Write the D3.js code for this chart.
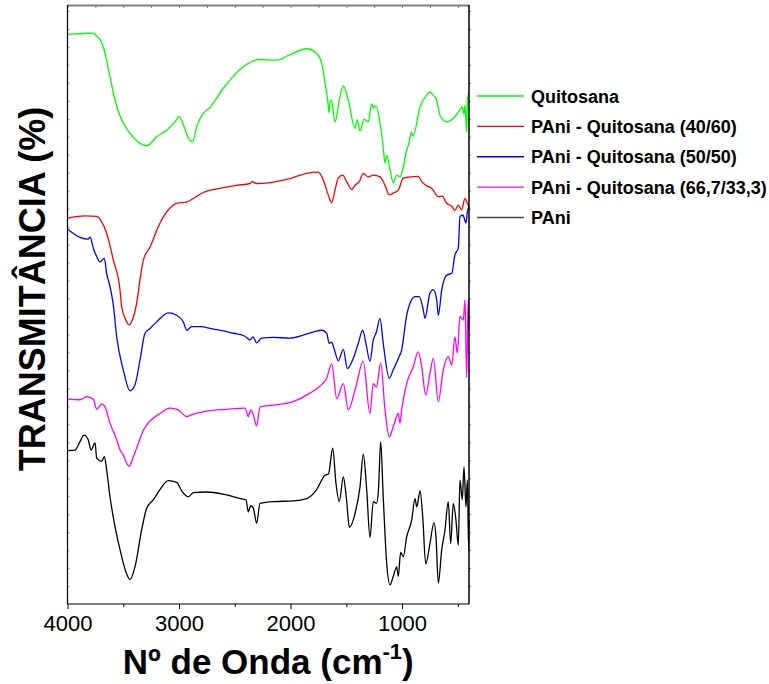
<!DOCTYPE html>
<html><head><meta charset="utf-8">
<script src="https://cdn.jsdelivr.net/npm/d3@7"></script>
<style>body{margin:0;background:#fff}svg{display:block}</style>
</head><body>
<svg id="c" width="769" height="684"></svg>
<script>
// ---- data: [wavenumber (cm-1), transmittance (arbitrary, offset)] ----
const seriesNames = ["Quitosana", "PAni - Quitosana (40/60)", "PAni - Quitosana (50/50)", "PAni - Quitosana (66,7/33,3)", "PAni"];
const xTickLabels = [4000, 3000, 2000, 1000];
const xMinorTicks = [3500, 2500, 1500, 500];

const quitosana = [[4000,95.1],[3888,95.2],[3769,95.3],[3738,94.8],[3709,94.3],[3679,93.0],[3619,88.0],[3574,84.1],[3514,80.8],[3440,78.6],[3350,76.9],[3290,76.5],[3200,78.0],[3111,79.1],[3036,80.5],[2998,81.4],[2955,79.7],[2917,77.8],[2877,77.2],[2842,79.7],[2782,81.9],[2722,82.9],[2603,86.1],[2424,89.7],[2274,90.9],[2124,90.8],[2005,91.7],[1855,92.7],[1766,91.9],[1721,90.3],[1691,86.9],[1667,84.1],[1655,82.0],[1646,84.1],[1631,83.9],[1602,80.5],[1557,84.7],[1527,86.5],[1482,84.1],[1422,79.4],[1402,80.8],[1377,79.0],[1342,80.9],[1303,80.5],[1273,83.5],[1258,82.8],[1234,83.2],[1198,80.3],[1169,76.3],[1153,73.6],[1138,74.9],[1108,72.5],[1079,70.3],[1048,71.6],[1019,71.3],[989,73.0],[959,75.8],[943,76.6],[914,78.8],[902,78.1],[839,83.0],[779,85.0],[750,85.5],[723,85.0],[690,84.1],[660,81.6],[600,80.5],[541,81.1],[481,82.5],[463,83.0],[445,81.8],[436,83.3],[421,78.8],[414,84.1],[400,85.5]];

const pq4060 = [[4000,64.4],[3843,64.8],[3738,64.7],[3693,63.8],[3649,61.9],[3589,57.4],[3529,52.4],[3514,49.6],[3484,47.7],[3446,46.6],[3413,47.7],[3380,50.2],[3350,54.1],[3320,57.4],[3260,59.6],[3171,63.6],[3081,66.1],[3021,66.9],[2931,67.1],[2872,67.7],[2782,68.7],[2633,69.4],[2483,69.9],[2364,70.2],[2346,70.5],[2304,70.2],[2035,70.9],[1975,71.2],[1855,71.9],[1751,72.1],[1707,70.8],[1662,68.3],[1631,67.0],[1602,69.1],[1572,71.1],[1533,71.6],[1497,70.5],[1452,69.2],[1422,69.9],[1384,70.5],[1348,71.9],[1303,71.3],[1258,71.6],[1198,71.3],[1153,69.9],[1115,68.3],[1079,68.6],[1034,69.1],[989,71.1],[929,71.3],[855,71.4],[824,70.5],[779,69.8],[735,69.4],[675,68.0],[642,68.1],[600,66.9],[555,66.4],[526,65.7],[496,66.6],[466,65.8],[436,67.7],[415,66.9],[400,66.3]];

const pq5050 = [[4000,62.6],[3888,61.2],[3814,60.9],[3798,61.3],[3769,59.4],[3738,58.0],[3709,57.1],[3670,57.7],[3649,55.2],[3619,53.0],[3589,49.9],[3559,44.6],[3500,39.1],[3440,35.6],[3395,36.6],[3350,40.7],[3305,45.2],[3260,46.0],[3200,47.1],[3096,48.6],[3021,48.2],[2962,47.1],[2931,45.7],[2886,46.3],[2812,46.3],[2693,45.9],[2603,45.6],[2513,45.2],[2409,44.7],[2364,44.1],[2337,44.6],[2304,43.6],[2259,44.4],[2155,44.5],[2005,44.4],[1886,44.9],[1796,45.4],[1721,45.7],[1676,45.2],[1653,43.5],[1633,43.7],[1611,42.7],[1572,40.6],[1527,42.5],[1491,39.3],[1438,41.0],[1393,43.5],[1353,45.7],[1324,43.5],[1288,40.5],[1258,44.1],[1230,45.4],[1198,47.7],[1169,43.5],[1115,37.7],[1079,39.1],[1034,41.0],[1004,42.4],[959,48.2],[929,50.2],[884,51.3],[846,51.3],[810,49.1],[795,47.7],[750,51.9],[720,52.5],[690,50.8],[675,48.2],[645,52.4],[600,54.9],[555,55.2],[526,58.3],[496,59.4],[481,64.7],[454,64.9],[427,63.6],[415,65.4],[400,66.3]];

const pq667 = [[4000,34.2],[3888,34.1],[3828,34.6],[3769,34.2],[3738,32.5],[3693,33.4],[3664,32.9],[3619,30.2],[3559,27.4],[3529,25.7],[3500,24.9],[3475,23.7],[3446,23.0],[3413,24.4],[3365,26.8],[3320,29.0],[3290,29.9],[3171,31.8],[3081,32.7],[3007,32.4],[2931,31.3],[2872,31.7],[2752,32.2],[2573,32.5],[2409,32.7],[2379,31.3],[2357,32.4],[2334,31.6],[2304,29.7],[2274,32.9],[2155,33.2],[1975,33.8],[1826,35.2],[1736,36.4],[1676,37.7],[1631,40.1],[1586,34.3],[1527,36.8],[1482,32.4],[1422,35.7],[1348,40.5],[1288,31.8],[1258,36.8],[1230,36.2],[1192,40.2],[1153,32.4],[1115,27.9],[1079,29.6],[1034,31.8],[1019,30.2],[1004,32.4],[959,36.8],[900,39.6],[855,42.1],[824,39.6],[788,34.9],[750,38.5],[720,41.0],[675,33.8],[631,39.1],[586,41.3],[555,39.9],[526,44.6],[505,41.9],[481,48.0],[451,47.4],[436,50.8],[421,37.8],[407,50.8],[400,45.7]];

const pani = [[4000,25.6],[3933,25.7],[3888,27.1],[3852,28.2],[3814,27.4],[3789,25.7],[3753,26.9],[3738,24.3],[3693,23.8],[3670,24.6],[3649,22.4],[3619,17.9],[3574,12.9],[3514,7.9],[3475,5.3],[3440,4.1],[3395,6.2],[3335,12.4],[3290,16.0],[3231,17.4],[3171,19.1],[3096,20.6],[3021,20.3],[2976,18.9],[2917,17.9],[2872,18.6],[2752,18.7],[2573,18.2],[2424,17.5],[2400,17.4],[2379,15.4],[2357,16.4],[2334,16.0],[2304,13.5],[2274,16.8],[2155,17.1],[1975,17.2],[1855,17.6],[1766,19.1],[1691,21.5],[1660,21.7],[1622,26.0],[1593,20.2],[1563,17.1],[1527,21.2],[1498,17.4],[1473,12.8],[1422,15.1],[1377,19.6],[1348,25.0],[1317,19.0],[1288,11.1],[1258,17.1],[1230,16.8],[1212,19.0],[1192,27.1],[1169,17.9],[1138,6.8],[1108,3.2],[1079,4.6],[1048,6.2],[1034,4.6],[1013,8.6],[989,7.9],[959,11.2],[914,14.0],[884,17.6],[868,16.2],[839,18.9],[815,14.6],[788,6.7],[750,10.1],[714,13.6],[696,11.2],[675,3.5],[645,9.0],[615,12.4],[586,17.1],[564,10.1],[541,16.8],[517,14.0],[496,9.8],[481,20.7],[460,17.4],[445,22.9],[427,16.2],[415,20.7],[403,9.0],[400,14.0]];

const seriesData = [quitosana, pq4060, pq5050, pq667, pani];
const seriesColors = ["#00ff00", "#ff0000", "#0000ff", "#ff00ff", "#000000"];

// ---- layout ----
const plot = {left: 67.5, right: 469, top: 5, bottom: 604};
const FONT = "'Liberation Sans', Arial, Helvetica, sans-serif";

const svg = d3.select("#c");
const x = d3.scaleLinear().domain([4000, 400]).range([plot.left, plot.right]);
const y = d3.scaleLinear().domain([0, 100]).range([plot.bottom, plot.top]);

// curves (pixel x increases along each series, so monotone-x smoothing applies)
const line = d3.line().x(d => x(d[0])).y(d => y(d[1])).curve(d3.curveMonotoneX);
svg.append("g").selectAll("path").data(seriesData).join("path")
  .attr("d", line).attr("fill", "none")
  .attr("stroke", (d, i) => seriesColors[i])
  .attr("stroke-width", 1.3).attr("stroke-linejoin", "round");

// axes
const gBottom = svg.append("g").attr("transform", `translate(0,${plot.bottom})`)
  .call(d3.axisBottom(x).tickValues(xTickLabels).tickSize(5).tickPadding(6).tickFormat(d3.format("d")));
gBottom.select(".domain").remove();
gBottom.selectAll("text").attr("font-family", FONT).attr("font-size", 22).attr("fill", "#000");
const gBottomMinor = svg.append("g").attr("transform", `translate(0,${plot.bottom})`)
  .call(d3.axisBottom(x).tickValues(xMinorTicks).tickSize(3).tickFormat(""));
gBottomMinor.select(".domain").remove();

const topTicks = d3.range(4000, 400, -250);
const gTop = svg.append("g").attr("transform", `translate(0,${plot.top})`)
  .call(d3.axisTop(x).tickValues(topTicks).tickSize(-3).tickFormat(""));
gTop.select(".domain").remove();
gTop.selectAll("line").attr("stroke", "#777");

const yTicks = d3.range(3, 100, 3);
const gLeft = svg.append("g").attr("transform", `translate(${plot.left},0)`)
  .call(d3.axisLeft(y).tickValues(yTicks).tickSize(-2).tickFormat(""));
gLeft.select(".domain").remove();
gLeft.selectAll("line").attr("stroke", "#888");
const gRight = svg.append("g").attr("transform", `translate(${plot.right},0)`)
  .call(d3.axisRight(y).tickValues(yTicks).tickSize(2).tickFormat(""));
gRight.select(".domain").remove();
gRight.selectAll("line").attr("stroke", "#888");

// frame
svg.append("line").attr("x1", plot.left).attr("x2", plot.right).attr("y1", plot.top + 0.5).attr("y2", plot.top + 0.5)
  .attr("stroke", "#808080").attr("stroke-width", 2);
svg.append("line").attr("x1", plot.left).attr("x2", plot.left).attr("y1", plot.top).attr("y2", plot.bottom)
  .attr("stroke", "#000").attr("stroke-width", 1.2);
svg.append("line").attr("x1", plot.right).attr("x2", plot.right).attr("y1", plot.top).attr("y2", plot.bottom)
  .attr("stroke", "#000").attr("stroke-width", 1.5);
svg.append("line").attr("x1", plot.left).attr("x2", plot.right).attr("y1", plot.bottom).attr("y2", plot.bottom)
  .attr("stroke", "#000").attr("stroke-width", 1.2);

// axis titles
const xt = svg.append("text").attr("x", (plot.left + plot.right) / 2).attr("y", 674)
  .attr("text-anchor", "middle").attr("font-family", FONT).attr("font-weight", "bold").attr("font-size", 35).attr("fill", "#000");
xt.append("tspan").text("Nº de Onda (cm");
xt.append("tspan").attr("font-size", 22).attr("dy", -15).text("-1");
xt.append("tspan").attr("dy", 15).text(")");

svg.append("text").attr("transform", "translate(45,289) rotate(-90)")
  .attr("text-anchor", "middle").attr("font-family", FONT).attr("font-weight", "bold").attr("font-size", 36).attr("fill", "#000")
  .text("TRANSMITÂNCIA (%)");

// legend
const ly = d3.scalePoint().domain(seriesNames).range([96, 217.5]);
const lg = svg.append("g");
seriesNames.forEach((name, i) => {
  lg.append("line").attr("x1", 477).attr("x2", 524).attr("y1", ly(name)).attr("y2", ly(name))
    .attr("stroke", i === 4 ? "#444" : seriesColors[i]).attr("stroke-width", 1.3);
  lg.append("text").attr("x", 531).attr("y", ly(name) + 6.5)
    .attr("font-family", FONT).attr("font-weight", "bold").attr("font-size", 18).attr("fill", "#000").text(name);
});
</script>
</body></html>
